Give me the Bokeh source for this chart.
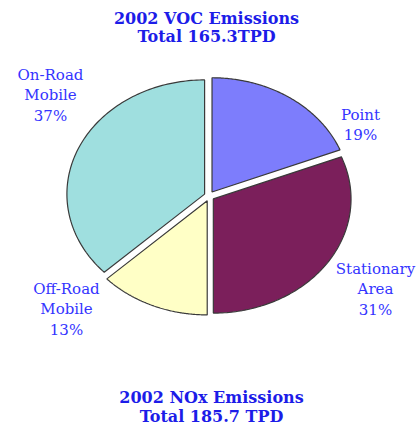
import numpy as np
from bokeh.plotting import figure
from bokeh.models import Range1d
from bokeh.core.properties import value
from bokeh.embed import file_html
from bokeh.resources import INLINE

# ---- data ----
categories = ["Point", "Stationary Area", "Off-Road Mobile", "On-Road Mobile"]
shares = [19, 31, 13, 37]            # percent of 2002 VOC emissions
title_lines = ["2002 VOC Emissions", "Total 165.3TPD"]
footer_lines = ["2002 NOx Emissions", "Total 185.7 TPD"]

# ---- styles / layout ----
colors = ["#7d7dfc", "#7b1f5b", "#ffffc6", "#9fdfdf"]
label_anchor = [(360, 114), (375, 268), (66, 288), (50, 74)]  # first-line centre of each label
line_gap = 20.5
cx, cy, rx, ry = 208.7, 195.6, 137.7, 114.2
explode = 5.0

p = figure(width=419, height=427, x_range=Range1d(0, 419), y_range=Range1d(427, 0),
           toolbar_location=None, output_backend="svg", min_border=0,
           x_axis_location=None, y_axis_location=None)
p.grid.visible = False
p.outline_line_color = None
p.background_fill_color = "white"

# pie slices: clockwise from 12 o'clock, drawn on an ellipse
xs, ys = [], []
start = 90.0
for s in shares:
    sweep = s / 100.0 * 360.0
    end = start - sweep
    mid = np.radians((start + end) / 2)
    ox, oy = explode * np.cos(mid), -explode * np.sin(mid)
    th = np.radians(np.linspace(start, end, 120))
    px = np.concatenate([[cx], cx + rx * np.cos(th), [cx]]) + ox
    py = np.concatenate([[cy], cy - ry * np.sin(th), [cy]]) + oy
    xs.append(list(px))
    ys.append(list(py))
    start = end

p.patches(xs=xs, ys=ys, fill_color=colors, line_color="#3a3a3a", line_width=1.2)

# slice labels
lx, ly, lt = [], [], []
for cat, s, (ax, ay) in zip(categories, shares, label_anchor):
    lines = cat.split(" ") + [f"{s}%"]
    for i, t in enumerate(lines):
        lx.append(ax)
        ly.append(ay + i * line_gap)
        lt.append(t)
p.text(x=lx, y=ly, text=lt, text_align="center", text_baseline="middle",
       text_font=value("DejaVu Serif"), text_font_size="15px", text_color="#3434ff")

# titles
tx = [206, 206, 211, 211]
ty = [17.5, 35.5, 397, 416]
p.text(x=tx, y=ty, text=title_lines + footer_lines, text_align="center", text_baseline="middle",
       text_font=value("DejaVu Serif"), text_font_style="bold", text_font_size="16px",
       text_color="#1c1ce8")

open("out.html", "w").write(file_html(p, INLINE))
